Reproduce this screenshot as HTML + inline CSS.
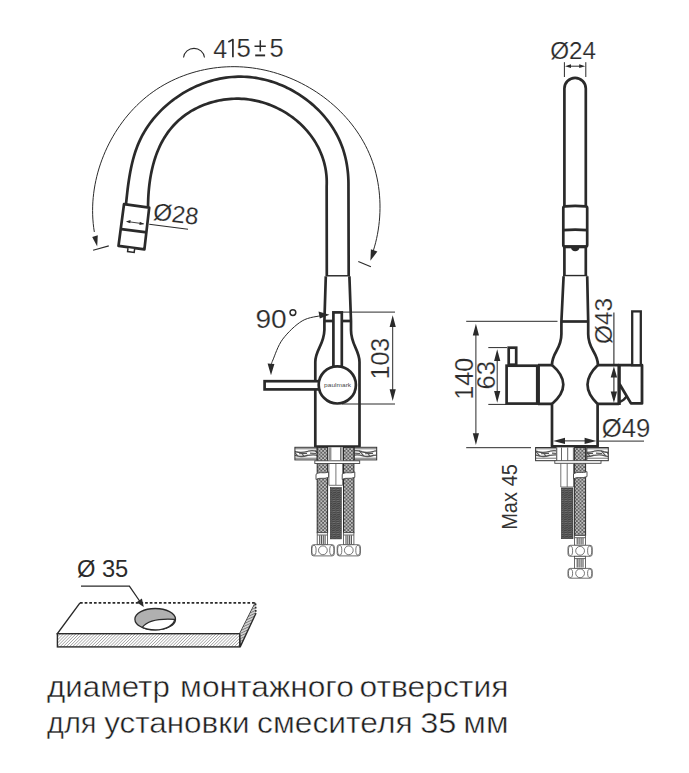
<!DOCTYPE html>
<html><head><meta charset="utf-8"><style>
html,body{margin:0;padding:0;background:#fff;}
svg{display:block;font-family:"Liberation Sans",sans-serif;}
</style></head><body>
<svg width="689" height="773" viewBox="0 0 689 773">
<rect width="689" height="773" fill="#fff"/>
<defs>
<pattern id="wood" width="22" height="12.6" patternUnits="userSpaceOnUse" x="0" y="447.2">
<rect width="22" height="12.6" fill="#ffffff"/>
<path d="M0 1.6 L22 1.6 M0 11 L22 11" stroke="#888" stroke-width="1.2" fill="none"/>
<path d="M0 4 Q5 2.8 10 4.6 Q15 6 22 4.2 M0 8.2 Q6 6.8 11 8.6 Q16 10 22 8" stroke="#4a4a4a" stroke-width="1.3" fill="none"/>
<path d="M7 3.5 L12 8.8 M15 5.2 L18 9 M2 6 L8 6.3 M13 6.5 L21 6.2" stroke="#555" stroke-width="1.1" fill="none"/>
</pattern>
<pattern id="braid" width="3.6" height="3.6" patternUnits="userSpaceOnUse">
<rect width="3.6" height="3.6" fill="#606060"/>
<circle cx="0.9" cy="0.9" r="0.85" fill="#e8e8e8"/>
<circle cx="2.7" cy="2.7" r="0.85" fill="#e8e8e8"/>
</pattern>
<pattern id="thread" width="4" height="2.2" patternUnits="userSpaceOnUse">
<rect width="4" height="2.2" fill="#444"/>
<path d="M0 1.6 L4 0.6" stroke="#8a8a8a" stroke-width="0.6"/>
</pattern>
<pattern id="hatch" width="2.2" height="2.2" patternUnits="userSpaceOnUse" patternTransform="rotate(45)">
<rect width="2.2" height="2.2" fill="#fff"/>
<path d="M0 0 L0 2.2" stroke="#6a6a6a" stroke-width="0.9"/>
</pattern>
<pattern id="hatch2" width="2.4" height="2.4" patternUnits="userSpaceOnUse" patternTransform="rotate(-25)">
<rect width="2.4" height="2.4" fill="#ddd"/>
<path d="M0 1.2 L2.4 1.2" stroke="#777" stroke-width="1"/>
</pattern>
</defs>
<path d="M125.96 204.51 L126.27 201.54 L126.58 198.56 L126.91 195.56 L127.25 192.55 L127.60 189.53 L127.98 186.51 L128.39 183.49 L128.83 180.46 L129.30 177.44 L129.81 174.42 L130.35 171.42 L130.95 168.42 L131.59 165.43 L132.29 162.46 L133.04 159.51 L133.85 156.58 L134.73 153.68 L135.67 150.80 L136.69 147.95 L137.78 145.13 L138.95 142.35 L140.20 139.60 L141.54 136.90 L142.96 134.23 L144.47 131.61 L146.05 129.03 L147.71 126.50 L149.45 124.01 L151.26 121.57 L153.13 119.18 L155.08 116.84 L157.10 114.56 L159.18 112.32 L161.32 110.14 L163.52 108.02 L165.78 105.95 L168.10 103.94 L170.47 101.99 L172.89 100.11 L175.36 98.28 L177.88 96.52 L180.44 94.82 L183.05 93.20 L185.70 91.63 L188.38 90.14 L191.11 88.72 L193.87 87.37 L196.66 86.10 L199.48 84.90 L202.33 83.77 L205.21 82.72 L208.11 81.75 L211.04 80.86 L213.98 80.06 L216.94 79.33 L219.92 78.69 L222.91 78.13 L225.91 77.67 L228.92 77.28 L231.94 76.99 L234.96 76.79 L237.99 76.68 L241.02 76.67 L244.04 76.75 L247.06 76.91 L250.08 77.17 L253.09 77.52 L256.09 77.95 L259.08 78.48 L262.05 79.08 L265.01 79.77 L267.95 80.55 L270.87 81.40 L273.77 82.33 L276.64 83.35 L279.49 84.44 L282.31 85.60 L285.10 86.85 L287.85 88.16 L290.58 89.55 L293.26 91.01 L295.91 92.54 L298.51 94.14 L301.07 95.81 L303.59 97.54 L306.06 99.34 L308.47 101.20 L310.84 103.13 L313.16 105.11 L315.42 107.16 L317.62 109.26 L319.76 111.42 L321.84 113.64 L323.85 115.92 L325.80 118.25 L327.68 120.63 L329.49 123.06 L331.23 125.54 L332.89 128.07 L334.48 130.65 L335.99 133.27 L337.41 135.94 L338.76 138.66 L340.02 141.41 L341.19 144.21 L342.27 147.05 L343.27 149.93 L344.16 152.84 L344.97 155.79 L345.69 158.76 L346.33 161.76 L346.87 164.79 L347.34 167.82 L347.72 170.88 L348.02 173.94 L348.24 177.00 L348.39 180.07 L348.46 183.13 L348.46 186.19 L348.7 276.4" fill="none" stroke="#2a2a2a" stroke-width="2.7"/>
<path d="M148.04 206.76 L148.06 204.35 L148.12 201.92 L148.20 199.48 L148.31 197.02 L148.46 194.55 L148.64 192.07 L148.85 189.59 L149.10 187.09 L149.38 184.60 L149.71 182.10 L150.07 179.60 L150.47 177.11 L150.92 174.62 L151.41 172.13 L151.94 169.66 L152.52 167.20 L153.14 164.75 L153.81 162.32 L154.53 159.91 L155.30 157.51 L156.12 155.14 L156.99 152.80 L157.92 150.48 L158.90 148.19 L159.93 145.93 L161.02 143.70 L162.17 141.51 L163.38 139.36 L164.65 137.25 L165.98 135.17 L167.36 133.15 L168.81 131.16 L170.32 129.23 L171.88 127.34 L173.50 125.50 L175.18 123.71 L176.92 121.98 L178.72 120.30 L180.57 118.68 L182.48 117.12 L184.44 115.61 L186.45 114.17 L188.51 112.78 L190.62 111.46 L192.77 110.20 L194.97 109.00 L197.20 107.86 L199.48 106.78 L201.79 105.77 L204.13 104.83 L206.51 103.94 L208.91 103.13 L211.34 102.38 L213.79 101.70 L216.26 101.08 L218.75 100.54 L221.26 100.06 L223.78 99.66 L226.30 99.32 L228.84 99.05 L231.38 98.86 L233.92 98.73 L236.46 98.68 L238.99 98.71 L241.52 98.80 L244.05 98.97 L246.56 99.21 L249.07 99.52 L251.56 99.89 L254.04 100.34 L256.50 100.85 L258.95 101.43 L261.38 102.07 L263.79 102.78 L266.18 103.55 L268.55 104.39 L270.89 105.29 L273.21 106.24 L275.50 107.26 L277.76 108.34 L279.99 109.47 L282.18 110.66 L284.35 111.91 L286.48 113.21 L288.57 114.57 L290.62 115.98 L292.64 117.44 L294.61 118.95 L296.54 120.52 L298.42 122.13 L300.26 123.79 L302.05 125.50 L303.79 127.26 L305.49 129.06 L307.12 130.91 L308.71 132.80 L310.24 134.74 L311.71 136.72 L313.12 138.74 L314.47 140.80 L315.77 142.89 L316.99 145.03 L318.16 147.21 L319.25 149.42 L320.28 151.67 L321.24 153.95 L322.13 156.26 L322.94 158.61 L323.68 161.00 L324.35 163.41 L324.93 165.85 L325.44 168.32 L325.87 170.82 L326.21 173.35 L326.48 175.91 L326.65 178.49 L326.74 181.09 L326.74 183.72 L326.66 186.37 L326.8 276.4" fill="none" stroke="#2a2a2a" stroke-width="2.7"/>
<path d="M124 204.2 L149.2 207.6 L144.4 249.3 L118.5 245.9 Z" fill="#fff" stroke="#2a2a2a" stroke-width="2.7" stroke-linejoin="round"/>
<path d="M121.4 229.1 L146.8 232.4" stroke="#2a2a2a" stroke-width="2.7"/>
<path d="M128 248.2 L127.6 251.6 L134.2 252.4 L134.6 249" fill="#fff" stroke="#2a2a2a" stroke-width="1.5"/>
<path d="M127 221.5 L143.5 223.8" stroke="#2a2a2a" stroke-width="0.9"/>
<path d="M125.9 221.4 L130.6 219.9 L130.2 223.3 Z M144.3 223.9 L139.4 225.1 L139.8 221.7 Z" fill="#2a2a2a"/>
<path d="M149.2 224.3 L188 229.2" stroke="#2a2a2a" stroke-width="1.1"/>
<path d="M94.33 231.96 L93.70 227.68 L93.21 223.38 L92.87 219.08 L92.66 214.77 L92.60 210.47 L92.67 206.16 L92.87 201.85 L93.21 197.56 L93.68 193.27 L94.27 189.00 L95.00 184.75 L95.85 180.52 L96.82 176.31 L97.92 172.13 L99.14 167.98 L100.48 163.86 L101.93 159.79 L103.50 155.75 L105.18 151.75 L106.98 147.81 L108.88 143.91 L110.90 140.07 L113.02 136.29 L115.25 132.57 L117.58 128.91 L120.02 125.33 L122.56 121.82 L125.19 118.39 L127.93 115.05 L130.76 111.79 L133.69 108.61 L136.72 105.54 L139.84 102.56 L143.05 99.68 L146.34 96.90 L149.73 94.24 L153.21 91.69 L156.76 89.26 L160.41 86.94 L164.13 84.75 L167.92 82.68 L171.79 80.73 L175.71 78.90 L179.70 77.19 L183.75 75.62 L187.84 74.16 L191.98 72.83 L196.16 71.63 L200.38 70.56 L204.64 69.62 L208.92 68.80 L213.22 68.12 L217.54 67.56 L221.88 67.14 L226.22 66.85 L230.57 66.70 L234.93 66.67 L239.27 66.79 L243.61 67.03 L247.94 67.41 L252.25 67.92 L256.55 68.55 L260.83 69.32 L265.08 70.20 L269.30 71.21 L273.50 72.34 L277.66 73.59 L281.78 74.96 L285.87 76.44 L289.91 78.04 L293.90 79.74 L297.85 81.56 L301.74 83.49 L305.57 85.52 L309.35 87.65 L313.06 89.89 L316.71 92.23 L320.29 94.66 L323.79 97.20 L327.22 99.83 L330.57 102.55 L333.84 105.36 L337.02 108.26 L340.12 111.25 L343.12 114.33 L346.03 117.49 L348.84 120.73 L351.54 124.05 L354.15 127.45 L356.64 130.93 L359.02 134.48 L361.29 138.11 L363.44 141.80 L365.47 145.57 L367.38 149.40 L369.16 153.30 L370.80 157.26 L372.32 161.28 L373.69 165.37 L374.93 169.51 L376.03 173.70 L377.00 177.93 L377.83 182.20 L378.52 186.50 L379.08 190.83 L379.51 195.18 L379.80 199.55 L379.97 203.92 L380.00 208.30 L379.90 212.68 L379.67 217.04 L379.31 221.40 L378.82 225.73 L378.20 230.04 L377.46 234.31 L376.59 238.55 L375.60 242.74 L374.48 246.89 L373.24 250.98" fill="none" stroke="#2a2a2a" stroke-width="1"/>
<path d="M97.2 246.6 L92.2 237 L97.8 235.2 Z" fill="#2a2a2a"/>
<path d="M93.1 250.2 L108.8 245.9" stroke="#2a2a2a" stroke-width="1.1"/>
<path d="M370.4 260.7 L370.9 249.2 L377.4 251.5 Z" fill="#2a2a2a"/>
<path d="M358.3 261.4 L370.9 266.8" stroke="#2a2a2a" stroke-width="1.1"/>
<path d="M183.5 57.5 A10.6 10.6 0 0 1 204.5 57.5" fill="none" stroke="#2a2a2a" stroke-width="1.1"/>
<text x="0" y="0" font-size="25" fill="#2b2b2b" stroke="#fff" stroke-width="0.2" transform="translate(213.20 57.56) scale(1.0039 1.0588)">4</text>
<path d="M232.9 57.3 L232.9 39.6 L228.3 42" fill="none" stroke="#2b2b2b" stroke-width="1.7" stroke-linejoin="round"/>
<text x="0" y="0" font-size="25" fill="#2b2b2b" stroke="#fff" stroke-width="0.2" transform="translate(236.57 57.04) scale(1.0298 1.0286)">5</text>
<path d="M260.3 40.3 L260.3 51.6 M254.5 46.3 L265.8 46.3" stroke="#2b2b2b" stroke-width="1.5"/><path d="M255.2 55.4 L265.1 55.4" stroke="#2b2b2b" stroke-width="1.9"/>
<text x="0" y="0" font-size="25" fill="#2b2b2b" stroke="#fff" stroke-width="0.2" transform="translate(269.38 57.04) scale(1.0213 1.0286)">5</text>
<text x="0" y="0" font-size="24" fill="#2b2b2b" stroke="#fff" stroke-width="0.15" transform="translate(152.42 219.46) rotate(7) scale(1.0)">Ø28</text>
<path d="M326 276.4 L349.5 276.4" stroke="#2a2a2a" stroke-width="2.7"/>
<path d="M325.8 276.4 L324.4 321 L324.4 330 C324 345 315.3 350 315.3 362 L315.3 446.5 L359.5 446.5 L359.5 362 C359.5 350 351 345 351 330 L351 321 L349.4 276.4" fill="#fff" stroke="#2a2a2a" stroke-width="2.7" stroke-linejoin="round"/>
<path d="M324.4 321 L351 321" stroke="#2a2a2a" stroke-width="2.7"/>
<rect x="333.4" y="312.4" width="8.4" height="58" fill="#fff" stroke="#2a2a2a" stroke-width="2.7"/>
<rect x="264.6" y="381.2" width="60" height="8.2" fill="#fff" stroke="#2a2a2a" stroke-width="2.7"/>
<circle cx="337.3" cy="384.9" r="18.6" fill="#fff" stroke="#2a2a2a" stroke-width="2.7"/>
<text x="0" y="0" font-size="6.6" fill="#4a4a4a" text-anchor="middle" transform="translate(337.6 386.6) scale(1.0 0.95)">paulmark</text>
<path d="M342.4 312.1 L395 312.1 M342 404 L395 404 M392.7 320 L392.7 396" stroke="#2a2a2a" stroke-width="1"/>
<path d="M392.7 315.3 L389.6 327 L395.8 327 Z M392.7 400.9 L389.6 389.2 L395.8 389.2 Z" fill="#2a2a2a"/>
<text x="0" y="0" font-size="25" fill="#2b2b2b" stroke="#fff" stroke-width="0.2" transform="translate(389.24 379.51) rotate(-90) scale(1.0026 1.0423)">103</text>
<path d="M322.0 315.5 C318.7 316.4 308.8 316.9 302.2 320.9 C295.6 324.8 287.6 332.7 282.7 339.2 C277.8 345.7 274.8 355.7 272.9 360.0 C271.0 364.3 271.5 364.2 271.2 365.0" fill="none" stroke="#2a2a2a" stroke-width="1"/>
<path d="M329.5 314.8 L318.5 311.5 L319.8 318.5 Z M271 375.2 L267.6 363.5 L274.4 364 Z" fill="#2a2a2a"/>
<text x="0" y="0" font-size="25" fill="#2b2b2b" stroke="#fff" stroke-width="0.2" transform="translate(255.39 327.64) scale(1.1255 1.0535)">90</text>
<circle cx="292.9" cy="312.6" r="2.9" fill="none" stroke="#2b2b2b" stroke-width="1.5"/>
<path d="M564.4 276.2 L564.4 88.5 A10.7 10.7 0 0 1 585.8 88.5 L585.8 276.2" fill="none" stroke="#2a2a2a" stroke-width="2.7"/>
<path d="M564.8 206.3 Q575.2 205.4 585.6 206.3 Q587.2 206.5 587.2 208 L587.2 245 Q587.2 246.5 585.6 246.5 L565 246.5 Q563.3 246.5 563.3 245 L563.3 208 Q563.3 206.5 564.8 206.3 Z" fill="#fff" stroke="#2a2a2a" stroke-width="2.7"/>
<path d="M563.5 230.2 Q575.2 229.2 587 230.2" fill="none" stroke="#2a2a2a" stroke-width="2.7"/>
<path d="M563.5 246.8 L587 246.8" stroke="#2a2a2a" stroke-width="3"/>
<path d="M571 247.5 Q571.5 251.3 575.2 251.3 Q579 251.3 579.4 247.5 Z" fill="#2a2a2a"/>
<path d="M563 276.2 L587.2 276.2" stroke="#2a2a2a" stroke-width="2.7"/>
<path d="M563.6 276.2 L561.4 321.5 L561.4 334 C561.4 350 552 352 552 365 Q574.6 384.6 552 404 L552 446.4 L597.6 446.4 L597.6 404 Q577.3 384.6 597.9 365 C597.9 352 588.2 350 588.2 334 L588.2 321.5 L587.2 276.2" fill="#fff" stroke="#2a2a2a" stroke-width="2.7" stroke-linejoin="round"/>
<path d="M561.4 321.5 L588.2 321.5" stroke="#2a2a2a" stroke-width="2.7"/>
<path d="M538 365.2 L552 365.2 M538 403.8 L552 403.8 M597.9 365.2 L619 365.2 M597.6 403.8 L619 403.8" stroke="#2a2a2a" stroke-width="2.7"/>
<rect x="506.6" y="365.7" width="32" height="37.9" fill="#fff" stroke="#2a2a2a" stroke-width="2.7"/>
<path d="M537.2 365 L537.2 404.5" stroke="#2a2a2a" stroke-width="2.6"/>
<rect x="508.7" y="347.7" width="7.5" height="17" fill="#fff" stroke="#2a2a2a" stroke-width="2.7"/>
<path d="M619 404.6 L619 365.2 L642 365.2 L642 403.4 L631 403.4 L619.5 384" fill="#fff" stroke="#2a2a2a" stroke-width="2.8" stroke-linejoin="round"/>
<path d="M619.2 365 L619.2 405" stroke="#2a2a2a" stroke-width="3"/>
<rect x="632.2" y="311.4" width="8.6" height="53.8" fill="#fff" stroke="#2a2a2a" stroke-width="2.3"/>
<path d="M619.5 402.1 Q624 400.5 626.8 396.2" fill="none" stroke="#2a2a2a" stroke-width="2.3"/>
<path d="M564.4 62.2 L564.4 77 M585.8 62.2 L585.8 77 M568 66.2 L582 66.2" stroke="#2a2a2a" stroke-width="1"/>
<path d="M565 66.2 L571 64.3 L571 68.1 Z M585.2 66.2 L579.2 64.3 L579.2 68.1 Z" fill="#2a2a2a"/>
<text x="0" y="0" font-size="25" fill="#2b2b2b" stroke="#fff" stroke-width="0.2" transform="translate(550.13 58.50) scale(0.9714 0.9829)">Ø24</text>
<path d="M466.2 321.3 L557.5 321.3 M466.2 447.7 L531 447.7 M475.9 330 L475.9 438" stroke="#2a2a2a" stroke-width="1"/>
<path d="M475.9 323.8 L472.8 335.5 L479 335.5 Z M475.9 445 L472.8 433.3 L479 433.3 Z" fill="#2a2a2a"/>
<text x="0" y="0" font-size="25" fill="#2b2b2b" stroke="#fff" stroke-width="0.2" transform="translate(472.84 399.71) rotate(-90) scale(1.0065 1.0310)">140</text>
<path d="M488.3 347.6 L507 347.6 M488.3 404.4 L506 404.4 M497.2 355 L497.2 397" stroke="#2a2a2a" stroke-width="1"/>
<path d="M497.2 349.3 L494.1 361 L500.3 361 Z M497.2 402.8 L494.1 391.1 L500.3 391.1 Z" fill="#2a2a2a"/>
<text x="0" y="0" font-size="25" fill="#2b2b2b" stroke="#fff" stroke-width="0.2" transform="translate(495.43 389.58) rotate(-90) scale(1.0235 1.0648)">63</text>
<path d="M613.9 312.5 L613.9 365 M613.9 370 L613.9 400" stroke="#2a2a2a" stroke-width="1.1"/>
<path d="M613.9 366.3 L610.7 377.5 L617.1 377.5 Z M613.9 402.8 L610.7 391.6 L617.1 391.6 Z" fill="#2a2a2a"/>
<text x="0" y="0" font-size="25" fill="#2b2b2b" stroke="#fff" stroke-width="0.2" transform="translate(611.55 343.97) rotate(-90) scale(0.9746 0.9859)">Ø43</text>
<path d="M560 440.9 L590 440.9 M599 441.1 L644 441.1" stroke="#2a2a2a" stroke-width="1"/>
<path d="M553.2 440.9 L565 437.8 L565 444 Z M596.4 440.9 L584.6 437.8 L584.6 444 Z" fill="#2a2a2a"/>
<text x="0" y="0" font-size="25" fill="#2b2b2b" stroke="#fff" stroke-width="0.2" transform="translate(601.67 437.15) scale(1.0289 1.0028)">Ø49</text>
<text x="0" y="0" font-size="20" fill="#333"  transform="translate(516.54 529.86) rotate(-90) scale(1.0048 1.0571)">Max 45</text>
<rect x="294.9" y="447.3" width="22.3" height="12.6" fill="url(#wood)" stroke="#333" stroke-width="1"/>
<rect x="354.2" y="447.3" width="22.5" height="12.6" fill="url(#wood)" stroke="#333" stroke-width="1"/>
<rect x="327.6" y="447.3" width="15.9" height="38" fill="#fff" stroke="none"/>
<path d="M329.2 447.3 L329.2 460 M342 447.3 L342 460 M330.8 447.3 L330.8 460 M340.6 447.3 L340.6 460" stroke="#555" stroke-width="0.9"/>
<path d="M328.9 463.5 L328.9 485.3 M342.6 463.5 L342.6 485.3 M335.9 463.5 L335.9 485" stroke="#666" stroke-width="0.9"/>
<path d="M328.9 485.3 L342.6 485.3" stroke="#666" stroke-width="0.9"/>
<rect x="317.2" y="447.3" width="10.4" height="85.4" fill="url(#braid)" stroke="#2a2a2a" stroke-width="1"/>
<rect x="343.5" y="447.3" width="10.4" height="85.4" fill="url(#braid)" stroke="#2a2a2a" stroke-width="1"/>
<rect x="314.8" y="460.8" width="44.9" height="2.7" fill="#fff" stroke="#444" stroke-width="0.9"/>
<path d="M316.0 474.3 C320.0 471.1 323.6 474.1 328.6 471.9 L328.6 477.3 C323.6 479.7 320.0 476.9 316.0 479.5 Z" fill="#fff" stroke="#444" stroke-width="0.9"/>
<path d="M342.2 474.3 C346.2 471.1 349.8 474.1 354.8 471.9 L354.8 477.3 C349.8 479.7 346.2 476.9 342.2 479.5 Z" fill="#fff" stroke="#444" stroke-width="0.9"/>
<rect x="330.3" y="487.6" width="11.0" height="51.3" fill="url(#thread)" stroke="#333" stroke-width="0.6"/>
<rect x="317.2" y="532.7" width="10.4" height="12.0" fill="#fff" stroke="#444" stroke-width="0.8"/><path d="M319.7 535.2 L319.7 543.9" stroke="#555" stroke-width="1.1"/><path d="M321.5 535.2 L321.5 543.9" stroke="#555" stroke-width="1.1"/><path d="M323.3 535.2 L323.3 543.9" stroke="#555" stroke-width="1.1"/><path d="M325.1 535.2 L325.1 543.9" stroke="#555" stroke-width="1.1"/><path d="M317.2 535.0 L327.6 535.0" stroke="#555" stroke-width="0.9"/>
<rect x="343.5" y="532.7" width="10.4" height="12.0" fill="#fff" stroke="#444" stroke-width="0.8"/><path d="M346.0 535.2 L346.0 543.9" stroke="#555" stroke-width="1.1"/><path d="M347.8 535.2 L347.8 543.9" stroke="#555" stroke-width="1.1"/><path d="M349.6 535.2 L349.6 543.9" stroke="#555" stroke-width="1.1"/><path d="M351.4 535.2 L351.4 543.9" stroke="#555" stroke-width="1.1"/><path d="M343.5 535.0 L353.9 535.0" stroke="#555" stroke-width="0.9"/>
<rect x="311.5" y="544.7" width="22.8" height="11.2" rx="2.2" fill="#fff" stroke="#555" stroke-width="0.85"/><circle cx="322.9" cy="550.3" r="4.4" fill="none" stroke="#555" stroke-width="0.8"/><ellipse cx="314.0" cy="550.3" rx="2.1" ry="4.9" fill="none" stroke="#555" stroke-width="0.8"/><ellipse cx="331.8" cy="550.3" rx="2.1" ry="4.9" fill="none" stroke="#555" stroke-width="0.8"/>
<rect x="337.2" y="544.7" width="23.2" height="11.2" rx="2.2" fill="#fff" stroke="#555" stroke-width="0.85"/><circle cx="348.8" cy="550.3" r="4.4" fill="none" stroke="#555" stroke-width="0.8"/><ellipse cx="339.7" cy="550.3" rx="2.1" ry="4.9" fill="none" stroke="#555" stroke-width="0.8"/><ellipse cx="357.9" cy="550.3" rx="2.1" ry="4.9" fill="none" stroke="#555" stroke-width="0.8"/>
<rect x="535.6" y="447.5" width="20.9" height="13.2" fill="url(#wood)" stroke="#333" stroke-width="1"/>
<rect x="586.8" y="447.5" width="21.5" height="13.2" fill="url(#wood)" stroke="#333" stroke-width="1"/>
<rect x="556.5" y="447.5" width="18" height="13.2" fill="#fff" stroke="none"/>
<path d="M556.8 447.5 L556.8 460.7 M561.5 447.5 L561.5 460.7 M567.7 447.5 L567.7 460.7 M573.4 447.5 L573.4 460.7 M585.9 447.5 L585.9 460.7" stroke="#555" stroke-width="0.9"/>
<path d="M560.8 463.5 L560.8 487 M573.5 463.5 L573.5 487 M567.2 463.5 L567.2 487 M560.8 487 L573.5 487" stroke="#666" stroke-width="0.9"/>
<rect x="574.6" y="447.5" width="11.0" height="87.9" fill="url(#braid)" stroke="#2a2a2a" stroke-width="1"/>
<rect x="554.8" y="460.7" width="46.2" height="2.6" fill="#fff" stroke="#444" stroke-width="0.9"/>
<path d="M573.5 474.0 C577.5 470.8 582.0 473.8 587.0 471.6 L587.0 476.6 C582.0 479.0 577.5 476.2 573.5 478.8 Z" fill="#fff" stroke="#444" stroke-width="0.9"/>
<rect x="561.4" y="488.0" width="11.6" height="50.7" fill="url(#thread)" stroke="#333" stroke-width="0.6"/>
<rect x="574.6" y="535.4" width="11.0" height="9.9" fill="#fff" stroke="#444" stroke-width="0.8"/><path d="M577.2 537.9 L577.2 544.5" stroke="#555" stroke-width="1.1"/><path d="M579.1 537.9 L579.1 544.5" stroke="#555" stroke-width="1.1"/><path d="M581.1 537.9 L581.1 544.5" stroke="#555" stroke-width="1.1"/><path d="M583.0 537.9 L583.0 544.5" stroke="#555" stroke-width="1.1"/><path d="M574.6 537.7 L585.6 537.7" stroke="#555" stroke-width="0.9"/>
<rect x="568.0" y="545.3" width="24.2" height="11.0" rx="2.2" fill="#fff" stroke="#555" stroke-width="0.85"/><circle cx="580.1" cy="550.8" r="4.4" fill="none" stroke="#555" stroke-width="0.8"/><ellipse cx="570.5" cy="550.8" rx="2.1" ry="4.8" fill="none" stroke="#555" stroke-width="0.8"/><ellipse cx="589.7" cy="550.8" rx="2.1" ry="4.8" fill="none" stroke="#555" stroke-width="0.8"/>
<rect x="574.6" y="556.3" width="11.0" height="12.1" fill="#fff" stroke="#444" stroke-width="0.8"/><path d="M577.2 558.8 L577.2 567.6" stroke="#555" stroke-width="1.1"/><path d="M579.1 558.8 L579.1 567.6" stroke="#555" stroke-width="1.1"/><path d="M581.1 558.8 L581.1 567.6" stroke="#555" stroke-width="1.1"/><path d="M583.0 558.8 L583.0 567.6" stroke="#555" stroke-width="1.1"/><path d="M574.6 558.6 L585.6 558.6" stroke="#555" stroke-width="0.9"/>
<rect x="568.0" y="568.4" width="24.2" height="9.8" rx="2.2" fill="#fff" stroke="#555" stroke-width="0.85"/><circle cx="580.1" cy="573.3" r="4.4" fill="none" stroke="#555" stroke-width="0.8"/><ellipse cx="570.5" cy="573.3" rx="2.1" ry="4.2" fill="none" stroke="#555" stroke-width="0.8"/><ellipse cx="589.7" cy="573.3" rx="2.1" ry="4.2" fill="none" stroke="#555" stroke-width="0.8"/>
<path d="M80 602.8 L57.4 633.6 L239.8 633.8 L255.4 602.8" fill="#fff" stroke="#2a2a2a" stroke-width="1.4"/>
<path d="M80 602.8 L255.4 602.8" stroke="#2a2a2a" stroke-width="1.7" stroke-dasharray="2.7 1.95"/>
<rect x="57.4" y="633.7" width="182.4" height="13.2" fill="url(#hatch)" stroke="#2a2a2a" stroke-width="1.4"/>
<path d="M239.8 633.8 L255.4 602.8 L256 613.2 L240.2 646.9 Z" fill="url(#hatch2)" stroke="none"/>
<path d="M239.8 633.8 L240.2 646.9 L256 613.2" fill="none" stroke="#2a2a2a" stroke-width="1.4"/>
<path d="M255.6 603.5 L255.8 613.2" stroke="#2a2a2a" stroke-width="1.6" stroke-dasharray="1.8 1.4"/>
<ellipse cx="155.2" cy="619.2" rx="20.3" ry="10.7" fill="#b0b0b0" stroke="#2a2a2a" stroke-width="1.3"/>
<path d="M142.3 627.4 C148 620 160 618.5 174.6 619.4 C174 625 166 629.9 155.2 629.9 C150 629.9 145 628.8 142.3 627.4 Z" fill="#fff" stroke="#2a2a2a" stroke-width="1.2"/>
<path d="M81 586.2 L129.4 586.2 L141 603" fill="none" stroke="#2a2a2a" stroke-width="1.3"/>
<path d="M143.8 607 L136.6 602.2 L141.9 598.5 Z" fill="#2a2a2a"/>
<text x="0" y="0" font-size="24" fill="#2b2b2b"  transform="translate(76.91 576.96) scale(0.9880 0.9706)">Ø 35</text>
<text x="0" y="0" font-size="29.5" fill="#1e1e1e" stroke="#fff" stroke-width="0.45" transform="translate(47.03 696.80) scale(1.0617 1)">диаметр</text>
<text x="0" y="0" font-size="29.5" fill="#1e1e1e" stroke="#fff" stroke-width="0.45" transform="translate(180.05 696.80) scale(1.0768 1)">монтажного</text>
<text x="0" y="0" font-size="29.5" fill="#1e1e1e" stroke="#fff" stroke-width="0.45" transform="translate(359.45 696.80) scale(1.0790 1)">отверстия</text>
<text x="0" y="0" font-size="29.5" fill="#1e1e1e" stroke="#fff" stroke-width="0.45" transform="translate(47.05 732.90) scale(0.9813 1)">для</text>
<text x="0" y="0" font-size="29.5" fill="#1e1e1e" stroke="#fff" stroke-width="0.45" transform="translate(104.13 732.90) scale(1.0659 1)">установки</text>
<text x="0" y="0" font-size="29.5" fill="#1e1e1e" stroke="#fff" stroke-width="0.45" transform="translate(257.05 732.90) scale(1.0775 1)">смесителя</text>
<text x="0" y="0" font-size="29.5" fill="#1e1e1e" stroke="#fff" stroke-width="0.45" transform="translate(420.22 732.90) scale(1.1041 1)">35</text>
<text x="0" y="0" font-size="29.5" fill="#1e1e1e" stroke="#fff" stroke-width="0.45" transform="translate(463.27 732.90) scale(1.1151 1)">мм</text>
</svg></body></html>
